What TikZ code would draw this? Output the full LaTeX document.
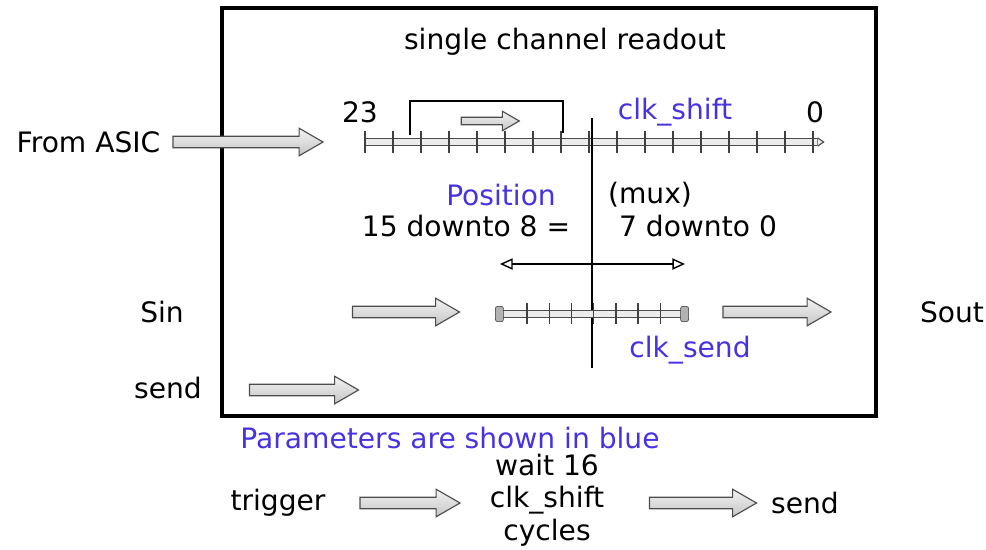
\documentclass[tikz,border=0pt]{standalone}
\usepackage{fontspec}
\setmainfont{DejaVu Sans}
\usetikzlibrary{arrows.meta, shapes.arrows}
\definecolor{parblue}{RGB}{70,50,225}

\begin{document}
\begin{tikzpicture}[
    x=0.025cm, y=-0.025cm,
    lbl/.style={
        font=\fontsize{20}{23}\selectfont,
        inner sep=1pt
    },
    param/.style={
        lbl,
        text=parblue
    },
    fatarrow/.style={
        single arrow,
        draw=gray!60!black,
        top color=gray!10,
        bottom color=gray!45,
        thick,
        inner xsep=0pt,
        inner ysep=0.13cm,
        minimum height=#1,
        single arrow head extend=0.2cm,
        single arrow tip angle=60
    },
    fatarrow/.default=2.7cm,
    regbar/.style={
        draw=gray!60!black,
        fill=gray!15,
        line width=0.8pt,
        inner sep=0pt,
        minimum height=0.18cm
    },
    regtick/.style={
        draw=gray!50!black,
        line width=1pt
    },
    endcap/.style={
        draw=gray!40!black,
        fill=gray!60,
        rounded corners=1.5pt,
        minimum width=0.2cm,
        minimum height=0.38cm,
        inner sep=0pt
    },
    outerbox/.style={
        draw,
        line width=2.2pt
    },
    heavy/.style={
        line width=2pt
    },
    muxrange/.style={
        {Triangle[open,length=9pt,width=8pt]}-{Triangle[open,length=9pt,width=8pt]},
        line width=1pt
    }
]
\useasboundingbox (0,0) rectangle (986,549);

% Frame
\draw[outerbox] (222,8) rectangle (876,416);
\node[lbl] (title) at (565,42) {single channel readout};

% Shift register
\node[lbl, anchor=east] (asic) at (162,142) {From ASIC};
\node[fatarrow=3.75cm] (inarrow) at (243,142) {};
\node[regbar, minimum width=11.3cm] (shiftreg) at (591,142) {};
\draw[regbar] (shiftreg.north east) -- ([xshift=0.15cm]shiftreg.east) -- (shiftreg.south east);
\foreach \i in {0,...,16}
    \draw[regtick] ({365+28*\i},131) -- ({365+28*\i},153);
\draw[heavy] (410,135) |- (563,101) -- (563,133);
\node[fatarrow=1.45cm, inner ysep=0.08cm, single arrow head extend=0.15cm] (shiftdir) at (487,121) {};
\node[lbl] (msb) at (360,112) {23};
\node[lbl] (lsb) at (815,112) {0};
\node[param] (clkshift) at (675,112) {clk\_shift};

% Mux
\coordinate (muxtop) at (592,118);
\coordinate (muxbot) at (592,368);
\draw[heavy] (muxtop) -- (muxbot);
\node[param] (pos) at (501,195) {Position};
\node[lbl] (mux) at (650,195) {(mux)};
\node[lbl] (upper) at (466,226) {15 downto 8 =};
\node[lbl] (lower) at (698,226) {7 downto 0};
\coordinate (rangel) at (500,264);
\coordinate (ranger) at (685,264);
\draw[muxrange] (rangel) -- (ranger);

% Output register
\node[lbl] (sin) at (162,312) {Sin};
\node[fatarrow=2.675cm] (sinarrow) at (401,312) {};
\node[regbar, minimum width=4.6cm] (sendreg) at (592,314) {};
\foreach \i in {0,...,6}
    \draw[regtick] ({527+22.2*\i},303) -- ({527+22.2*\i},324);
\node[endcap] (capl) at (sendreg.west) {};
\node[endcap] (capr) at (sendreg.east) {};
\node[fatarrow=2.7cm] (soutarrow) at (772,312) {};
\node[lbl] (sout) at (952,312) {Sout};
\node[param] (clksend) at (690,350) {clk\_send};
\node[lbl] (send) at (168,388) {send};
\node[fatarrow=2.725cm] (sendarrow) at (299,390) {};

% Legend
\node[param] (legend) at (450,438) {Parameters are shown in blue};
\node[lbl] (trigger) at (278,503) {trigger};
\node[fatarrow=2.5cm] (trigarrow) at (405,503) {};
\node[lbl, align=center] (wait) at (547,500) {wait 16\\clk\_shift\\cycles};
\node[fatarrow=2.675cm] (waitarrow) at (698,503) {};
\node[lbl] (sendlast) at (805,503) {send};

\end{tikzpicture}
\end{document}
